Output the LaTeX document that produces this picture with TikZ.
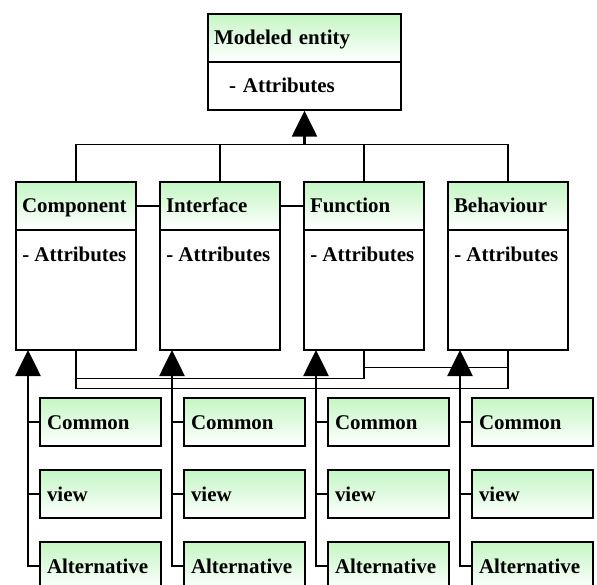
\documentclass[tikz,border=0pt]{standalone}
\usepackage{fontspec}
\setmainfont{Liberation Serif}
\usetikzlibrary{arrows.meta}
\definecolor{hdgreen}{RGB}{196,246,196}
\begin{document}
\begin{tikzpicture}[x=0.75pt, y=-0.75pt,
  font=\bfseries\fontsize{15.7}{18}\selectfont,
  box/.style={draw=black, line width=1.1pt, inner ysep=0pt, inner xsep=4.5pt, align=left, text height=10.5pt, text depth=0pt},
  head/.style={box, top color=hdgreen, bottom color=white, minimum height=36pt, text width=81pt},
  body/.style={box, fill=white, minimum width=90pt, minimum height=90pt},
  attr/.style={anchor=base west, inner sep=0pt},
  part/.style={box, top color=hdgreen, bottom color=white, minimum height=36pt, inner xsep=5.25pt, text width=80.25pt},
  link/.style={line width=1pt},
  stem/.style={line width=2pt},
  inh/.style={-{Triangle[width=18.75pt, length=19.5pt]}}]
\useasboundingbox (0,0) rectangle (597,585);
% top class
\node[head, text width=135.75pt] (meh) at (304.5,38) {Modeled entity};
\node[box, fill=white, minimum height=36pt, inner xsep=15.75pt, text width=113.25pt] (meb) at (304.5,86) {- Attributes};
% four classes
\node[head] (comph) at (76,206) {Component};
\node[body] (compb) at (76,290) {};
\node[attr] (compa) at (22,261) {- Attributes};
\node[head] (intfh) at (220,206) {Interface};
\node[body] (intfb) at (220,290) {};
\node[attr] (intfa) at (166,261) {- Attributes};
\node[head] (funch) at (364,206) {Function};
\node[body] (funcb) at (364,290) {};
\node[attr] (funca) at (310,261) {- Attributes};
\node[head] (behvh) at (508,206) {Behaviour};
\node[body] (behvb) at (508,290) {};
\node[attr] (behva) at (454,261) {- Attributes};
% parts
\node[part] (compcom) at (100.5,422) {Common};
\node[part] (compview) at (100.5,494) {view};
\node[part] (compalt) at (100.5,566) {Alternative};
\node[part] (intfcom) at (244.5,422) {Common};
\node[part] (intfview) at (244.5,494) {view};
\node[part] (intfalt) at (244.5,566) {Alternative};
\node[part] (funccom) at (388.5,422) {Common};
\node[part] (funcview) at (388.5,494) {view};
\node[part] (funcalt) at (388.5,566) {Alternative};
\node[part] (behvcom) at (532.5,422) {Common};
\node[part] (behvview) at (532.5,494) {view};
\node[part] (behvalt) at (532.5,566) {Alternative};
\coordinate (bus) at (304.5,145);
\coordinate (s1) at (28,350);
\coordinate (s2) at (172,350);
\coordinate (s3) at (316,350);
\coordinate (s4) at (460,350);
% generalisation
\draw[stem, inh] (bus) -- (meb.south);
\draw[link] (comph.north) -- ++(0,-37) -| (behvh.north);
\draw[link] (intfh.north) -- (intfh.north |- bus);
\draw[link] (funch.north) -- (funch.north |- bus);
% associations
\draw[link] (comph.east) -- (intfh.west);
\draw[link] (intfh.east) -- (funch.west);
\draw[link] (compb.south) -- ++(0,38) -| (behvb.south);
\draw[link] (compb.south) -- ++(0,28) -| (funcb.south);
\draw[link] (funcb.south) -- ++(0,17) -| (behvb.south);
% views
\draw[stem, inh] (compalt.west) -| (s1);
\draw[stem] (compcom.west) -- (compcom.west -| s1);
\draw[stem] (compview.west) -- (compview.west -| s1);
\draw[stem, inh] (intfalt.west) -| (s2);
\draw[stem] (intfcom.west) -- (intfcom.west -| s2);
\draw[stem] (intfview.west) -- (intfview.west -| s2);
\draw[stem, inh] (funcalt.west) -| (s3);
\draw[stem] (funccom.west) -- (funccom.west -| s3);
\draw[stem] (funcview.west) -- (funcview.west -| s3);
\draw[stem, inh] (behvalt.west) -| (s4);
\draw[stem] (behvcom.west) -- (behvcom.west -| s4);
\draw[stem] (behvview.west) -- (behvview.west -| s4);
\end{tikzpicture}
\end{document}
